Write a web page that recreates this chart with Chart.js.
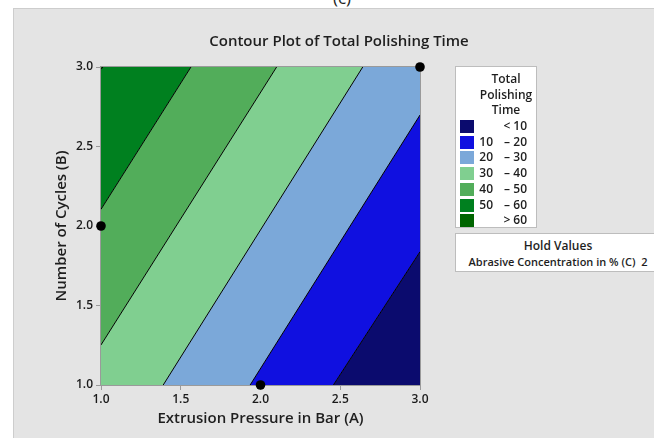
<!DOCTYPE html>
<html>
<head>
<meta charset="utf-8">
<script src="https://cdn.jsdelivr.net/npm/chart.js@4.4.1/dist/chart.umd.min.js"></script>
<style>
  html, body { margin:0; padding:0; }
  body { width:654px; height:438px; overflow:hidden; background:#fff; position:relative; font-family:"Open Sans", "Noto Sans", sans-serif; color:#1e1e1e; }
  #panel { position:absolute; left:13px; top:8px; width:641px; height:430px; background:#e4e4e4; border-top:1px solid #cdcdcd; border-left:1px solid #cdcdcd; box-sizing:border-box; }
  #cap { position:absolute; left:0; width:654px; top:-14px; text-align:center; font-size:17px; padding-left:30px; box-sizing:border-box; }
  #c { position:absolute; left:0; top:0; }
  #title { position:absolute; left:208px; width:262px; top:30px; text-align:center; font-size:15px; font-weight:600; white-space:nowrap; }
  #legend { position:absolute; left:455px; top:66px; width:82px; height:162px; background:#fff; border:1px solid #bdbdbd; box-sizing:border-box; }
  .lt { position:absolute; left:0; width:96px; text-align:center; font-size:12px; font-weight:600; line-height:15px; }
  .sw { position:absolute; left:4px; width:14px; height:13px; }
  .c1, .c2, .c3 { position:absolute; font-size:12px; font-weight:600; line-height:14px; white-space:nowrap; }
  .c1 { right:43px; text-align:right; }
  .c2 { left:46px; width:10px; text-align:center; }
  .c3 { right:9px; text-align:right; }
  #hold { position:absolute; left:455px; top:233px; width:210px; height:39px; background:#fff; border:1px solid #bdbdbd; box-sizing:border-box; }
  #hold div { position:absolute; left:0; width:204px; text-align:center; font-size:11px; font-weight:600; white-space:nowrap; line-height:15px; }
</style>
</head>
<body>
<div id="panel"></div>
<div id="cap">(c)</div>
<canvas id="c" width="654" height="438"></canvas>
<div id="title">Contour Plot of Total Polishing Time</div>
<div id="legend"></div>
<div id="hold"><div style="top:4px;font-size:12px">Hold Values</div><div style="top:20px">Abrasive Concentration in % (C)&nbsp; 2</div></div>
<script>
// ---- data ----
const xTickValues = [1.0, 1.5, 2.0, 2.5, 3.0];
const yTickValues = [1.0, 1.5, 2.0, 2.5, 3.0];
const legendTitle = ['Total', 'Polishing', 'Time'];
const legendLow  = ['', '10', '20', '30', '40', '50', ''];
const legendSep  = ['<', '–', '–', '–', '–', '–', '>'];
const legendHigh = ['10', '20', '30', '40', '50', '60', '60'];
const regionColors = ['#0b0b6e', '#1010e0', '#7ba8d9', '#80cf90', '#52ad5a', '#00801f', '#006500'];
// contour line end points [x, y]
const contour10 = [[2.457, 1.0], [3.0, 1.838]];
const contour20 = [[1.935, 1.0], [3.0, 2.698]];
const contour30 = [[1.390, 1.0], [2.641, 3.0]];
const contour40 = [[1.0, 1.252], [2.101, 3.0]];
const contour50 = [[1.0, 2.105], [1.564, 3.0]];
const contour60 = [[1.0, 2.985], [1.012, 3.0]];
const designX = [1.0, 2.0, 3.0];
const designY = [2.0, 1.0, 3.0];
const xMin = 1.0, xMax = 3.0, yMin = 1.0, yMax = 3.0;

// ---- regions built from contour lines and plot corners ----
const regions = [
  [contour10[0], [xMax, yMin], contour10[1]],
  [contour20[0], contour10[0], contour10[1], contour20[1]],
  [contour30[0], contour20[0], contour20[1], [xMax, yMax], contour30[1]],
  [[xMin, yMin], contour30[0], contour30[1], contour40[1], contour40[0]],
  [contour40[0], contour40[1], contour50[1], contour50[0]],
  [contour50[0], contour50[1], contour60[1], contour60[0]],
  [contour60[0], contour60[1], [xMin, yMax]]
];
const contours = [contour10, contour20, contour30, contour40, contour50, contour60];
const toPts = arr => arr.map(p => ({x: p[0], y: p[1]}));

const datasets = [];
datasets.push({
  label: 'design', data: designX.map((x, i) => ({x, y: designY[i]})),
  pointRadius: 4.8, pointBackgroundColor: '#000', pointBorderColor: '#000', pointBorderWidth: 0,
  showLine: false, clip: false, order: 0
});
contours.forEach((c, i) => datasets.push({
  label: 'contour' + i, data: toPts(c), showLine: true, borderColor: '#000', borderWidth: 1,
  pointRadius: 0, fill: false, order: 1
}));
regions.forEach((r, i) => datasets.push({
  label: 'region' + i, data: toPts(r).concat([toPts(r)[0]]), showLine: true, borderWidth: 0,
  borderColor: regionColors[i], backgroundColor: regionColors[i], pointRadius: 0, fill: 'shape', order: 2
}));

const framePlugin = {
  id: 'frame',
  beforeDatasetDraw(chart, args) {
    if (args.index !== 0) return;
    const a = chart.chartArea, ctx = chart.ctx;
    ctx.save();
    ctx.strokeStyle = '#9a9a9a'; ctx.lineWidth = 1;
    ctx.strokeRect(a.left - 0.5, a.top - 0.5, a.right - a.left + 1, a.bottom - a.top + 1);
    ctx.restore();
  }
};

const tickFont = {family: '"Open Sans", "Noto Sans", sans-serif', size: 12, weight: '600'};
const titleFont = {family: '"Open Sans", "Noto Sans", sans-serif', size: 15, weight: '600'};

new Chart(document.getElementById('c'), {
  type: 'scatter',
  data: {datasets},
  options: {
    responsive: false, animation: false, devicePixelRatio: 1,
    layout: {padding: {left: 0, top: 67, right: 234, bottom: 0}},
    plugins: {legend: {display: false}, tooltip: {enabled: false}, title: {display: false}},
    scales: {
      x: {
        type: 'linear', min: xMin, max: xMax,
        afterBuildTicks: s => { s.ticks = xTickValues.map(v => ({value: v})); },
        afterFit: s => { s.height = 53; },
        ticks: {callback: v => Number(v).toFixed(1), font: tickFont, color: '#1a1a1a', padding: 2, maxRotation: 0, autoSkip: false},
        grid: {drawOnChartArea: false, drawTicks: true, tickLength: 5, color: '#9a9a9a'},
        border: {display: true, color: '#9a9a9a'},
        title: {display: true, text: 'Extrusion Pressure in Bar (A)', font: titleFont, color: '#1e1e1e', padding: {top: 0, bottom: 10}}
      },
      y: {
        type: 'linear', min: yMin, max: yMax,
        afterBuildTicks: s => { s.ticks = yTickValues.map(v => ({value: v})); },
        afterFit: s => { s.width = 101; },
        ticks: {callback: v => Number(v).toFixed(1), font: tickFont, color: '#1a1a1a', padding: 3, autoSkip: false},
        grid: {drawOnChartArea: false, drawTicks: true, tickLength: 5, color: '#9a9a9a'},
        border: {display: true, color: '#9a9a9a'},
        title: {display: true, text: 'Number of Cycles (B)', font: titleFont, color: '#1e1e1e', padding: {top: 53, bottom: 0}}
      }
    }
  },
  plugins: [framePlugin]
});

// ---- legend (HTML) ----
const lg = document.getElementById('legend');
legendTitle.forEach((t, i) => {
  const d = document.createElement('div'); d.className = 'lt'; d.textContent = t;
  d.style.top = (4 + i * 15.5) + 'px'; d.style.left = '2px'; lg.appendChild(d);
});
regionColors.forEach((col, i) => {
  const top = 53 + i * 15.7;
  const sw = document.createElement('div'); sw.className = 'sw'; sw.style.background = col; sw.style.top = top + 'px'; lg.appendChild(sw);
  const a = document.createElement('span'); a.className = 'c1'; a.textContent = legendLow[i]; a.style.top = (top - 1) + 'px'; lg.appendChild(a);
  const b = document.createElement('span'); b.className = 'c2'; b.textContent = legendSep[i]; b.style.top = (top - 1) + 'px'; lg.appendChild(b);
  const c = document.createElement('span'); c.className = 'c3'; c.textContent = legendHigh[i]; c.style.top = (top - 1) + 'px'; lg.appendChild(c);
});
</script>
</body>
</html>
